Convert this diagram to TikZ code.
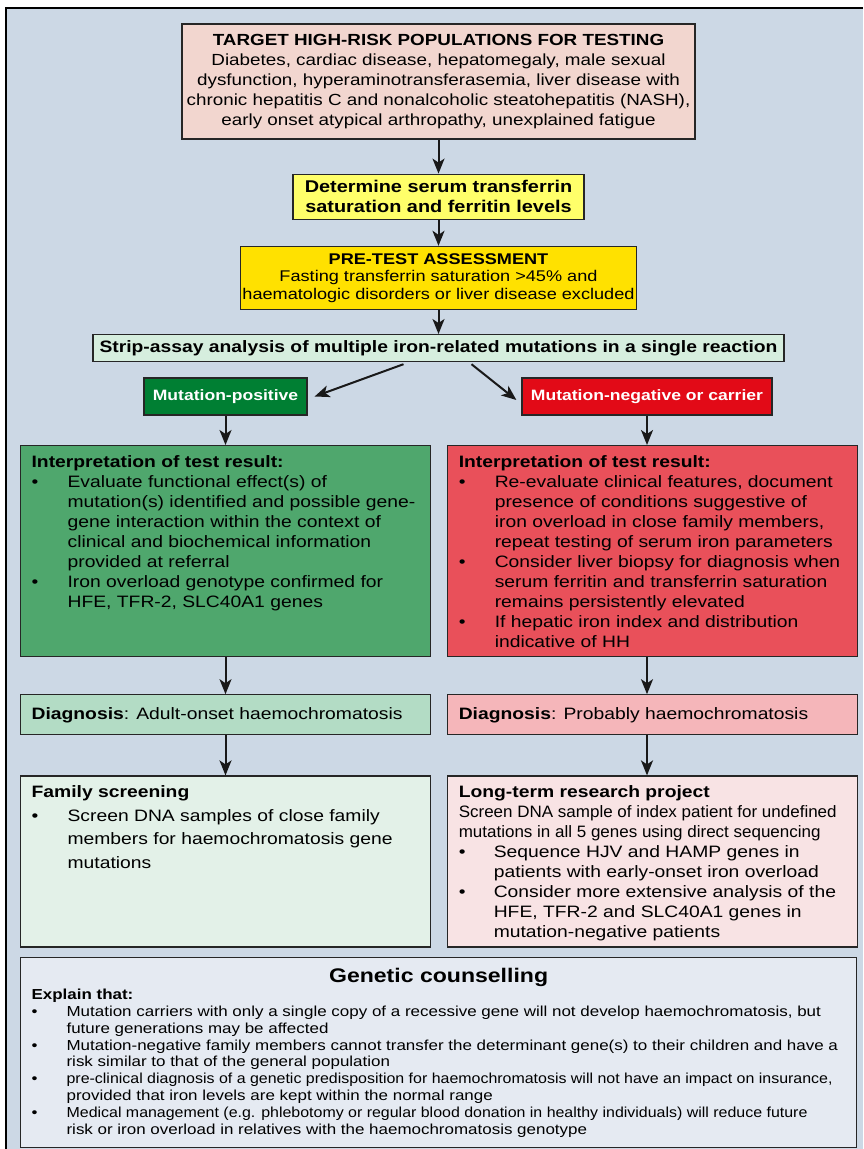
\documentclass[tikz,border=0pt]{standalone}
\usepackage{fontspec}
\setmainfont{Liberation Sans}[FakeStretch=1.17]
\newfontfamily\narrowfont{Liberation Sans}[FakeStretch=1.03]
\newfontfamily\midfont{Liberation Sans}[FakeStretch=1.10]
\usepackage{tikz}
\usetikzlibrary{arrows.meta,positioning}
\definecolor{bgblue}{HTML}{CCD8E5}
\definecolor{targetpink}{HTML}{F2D6CF}
\definecolor{detyellow}{HTML}{FFFF6A}
\definecolor{pregold}{HTML}{FFE100}
\definecolor{stripgreen}{HTML}{D6EEDE}
\definecolor{posgreen}{HTML}{007F33}
\definecolor{negred}{HTML}{E20A17}
\definecolor{interpgreen}{HTML}{4FA76D}
\definecolor{interpred}{HTML}{E9505A}
\definecolor{diaggreen}{HTML}{B3DCC5}
\definecolor{diagpink}{HTML}{F5B6BA}
\definecolor{famgreen}{HTML}{E3F1E8}
\definecolor{respink}{HTML}{F8E3E4}
\definecolor{counselblue}{HTML}{E5EAF2}
% bullet item with hanging indent (use \newline inside, not \\)
\newcommand{\bitem}[2][36pt]{\par\hangindent=#1\hangafter=1\noindent\makebox[#1][l]{\textbullet}#2}
\newcommand{\topgap}{\vspace*{4pt}}

\begin{document}
\begin{tikzpicture}[
  x=1pt,y=-1pt,
  font=\fontsize{16.5}{20}\selectfont,
  box/.style={draw=black!85,line width=1.2pt,inner sep=0pt,align=center},
  panel/.style={draw=black!85,line width=1.2pt,inner xsep=11pt,inner ysep=6pt},
  arr/.style={-{Stealth[length=15pt,width=12pt,inset=4pt]},line width=2pt,draw=black!90}
]
\useasboundingbox (0,0) rectangle (863,1149);
\fill[bgblue] (6,8) rectangle (863,1149);
\draw[line width=1.5pt] (6,1149) -- (6,8) -- (863,8);

% central column
\node[box,fill=targetpink,minimum width=513pt,minimum height=115pt,font=\fontsize{16.1}{20}\selectfont] (target) at (438.5,81.5)
  {\textbf{TARGET HIGH-RISK POPULATIONS FOR TESTING}\\
   Diabetes, cardiac disease, hepatomegaly, male sexual\\
   dysfunction, hyperaminotransferasemia, liver disease with\\
   chronic hepatitis C and nonalcoholic steatohepatitis (NASH),\\
   early onset atypical arthropathy, unexplained fatigue};
\node[box,fill=detyellow,minimum width=291pt,minimum height=45pt,font=\fontsize{17}{20}\selectfont\bfseries,
  below=34pt of target] (determine) {Determine serum transferrin\\saturation and ferritin levels};
\node[box,fill=pregold,minimum width=396pt,minimum height=63pt,font=\fontsize{15.5}{17.5}\selectfont,
  below=26pt of determine] (pretest)
  {\textbf{PRE-TEST ASSESSMENT}\\Fasting transferrin saturation >45\% and\\haematologic disorders or liver disease excluded};
\node[box,fill=stripgreen,minimum width=691pt,minimum height=27pt,font=\fontsize{16.5}{20}\selectfont\bfseries,
  below=24pt of pretest] (strip) {Strip-assay analysis of multiple iron-related mutations in a single reaction};

% test outcome
\node[box,fill=posgreen,text=white,minimum width=163pt,minimum height=37pt,font=\fontsize{15}{18}\selectfont\bfseries]
  (mutpos) at (225.5,396.5) {Mutation-positive};
\node[box,fill=negred,text=white,minimum width=250pt,minimum height=37pt,font=\fontsize{15}{18}\selectfont\bfseries]
  (mutneg) at (647,396.5) {Mutation-negative or carrier};

% interpretation
\node[panel,fill=interpgreen,anchor=north west] (interpL) at (20,445)
  {\parbox[t][199pt][t]{388pt}{\raggedright\topgap
   \textbf{Interpretation of test result:}
   \bitem{Evaluate functional effect(s) of\newline mutation(s) identified and possible gene-\newline gene interaction within the context of\newline clinical and biochemical information\newline provided at referral}
   \bitem{Iron overload genotype confirmed for\newline HFE, TFR-2, SLC40A1 genes}}};
\node[panel,fill=interpred,right=16pt of interpL] (interpR)
  {\parbox[t][199pt][t]{388pt}{\raggedright\topgap
   \textbf{Interpretation of test result:}
   \bitem{Re-evaluate clinical features, document\newline presence of conditions suggestive of\newline iron overload in close family members,\newline repeat testing of serum iron parameters}
   \bitem{Consider liver biopsy for diagnosis when\newline serum ferritin and transferrin saturation\newline remains persistently elevated}
   \bitem{If hepatic iron index and distribution\newline indicative of HH}}};

% diagnosis
\node[panel,fill=diaggreen,below=37pt of interpL] (diagL)
  {\parbox[c][28pt][c]{388pt}{\textbf{Diagnosis}: Adult-onset haemochromatosis}};
\node[panel,fill=diagpink,below=37pt of interpR] (diagR)
  {\parbox[c][28pt][c]{388pt}{\textbf{Diagnosis}: Probably haemochromatosis}};

% follow-up
\node[panel,fill=famgreen,below=40pt of diagL] (family)
  {\parbox[t][159pt][t]{388pt}{\raggedright\fontsize{16.5}{23.5}\selectfont\topgap
   \textbf{Family screening}
   \bitem{Screen DNA samples of close family\newline members for haemochromatosis gene\newline mutations}}};
\node[panel,fill=respink,below=40pt of diagR] (research)
  {\parbox[t][159pt][t]{388pt}{\raggedright\topgap
   \textbf{Long-term research project}\par
   \mbox{\narrowfont Screen DNA sample of index patient for undefined}\par
   \mbox{\narrowfont mutations in all 5 genes using direct sequencing}
   \bitem[35pt]{Sequence HJV and HAMP genes in\newline patients with early-onset iron overload}
   \bitem[35pt]{Consider more extensive analysis of the\newline HFE, TFR-2 and SLC40A1 genes in\newline mutation-negative patients}}};

% counselling
\node[panel,fill=counselblue,anchor=north west] (counsel) at (20,957)
  {\parbox[t][178pt][t]{814pt}{\vspace*{5pt}\centering{\fontsize{19.7}{24}\selectfont\bfseries Genetic counselling}\par
   \raggedright\fontsize{14.5}{16.8}\selectfont
   \textbf{Explain that:}
   \bitem[35pt]{Mutation carriers with only a single copy of a recessive gene will not develop haemochromatosis, but\newline future generations may be affected}
   \bitem[35pt]{Mutation-negative family members cannot transfer the determinant gene(s) to their children and have a\newline risk similar to that of the general population}
   \bitem[35pt]{{\midfont pre-clinical diagnosis of a genetic predisposition for haemochromatosis will not have an impact on insurance,}\newline provided that iron levels are kept within the normal range}
   \bitem[35pt]{{\midfont Medical management (e.g. phlebotomy or regular blood donation in healthy individuals) will reduce future}\newline risk or iron overload in relatives with the haemochromatosis genotype}}};

\draw[arr] (target) -- (determine);
\draw[arr] (determine) -- (pretest);
\draw[arr] (pretest) -- (strip);
\draw[arr] ([xshift=-35pt,yshift=-2pt]strip.south) -- ([xshift=7pt]mutpos.east);
\draw[arr] ([xshift=33pt,yshift=-2pt]strip.south) -- ([xshift=-5pt,yshift=-3.5pt]mutneg.west);
\draw[arr] (mutpos) -- (mutpos |- interpL.north);
\draw[arr] (mutneg) -- (mutneg |- interpR.north);
\draw[arr] (mutpos |- interpL.south) -- (mutpos |- diagL.north);
\draw[arr] (mutneg |- interpR.south) -- (mutneg |- diagR.north);
\draw[arr] (mutpos |- diagL.south) -- (mutpos |- family.north);
\draw[arr] (mutneg |- diagR.south) -- (mutneg |- research.north);
\end{tikzpicture}
\end{document}
